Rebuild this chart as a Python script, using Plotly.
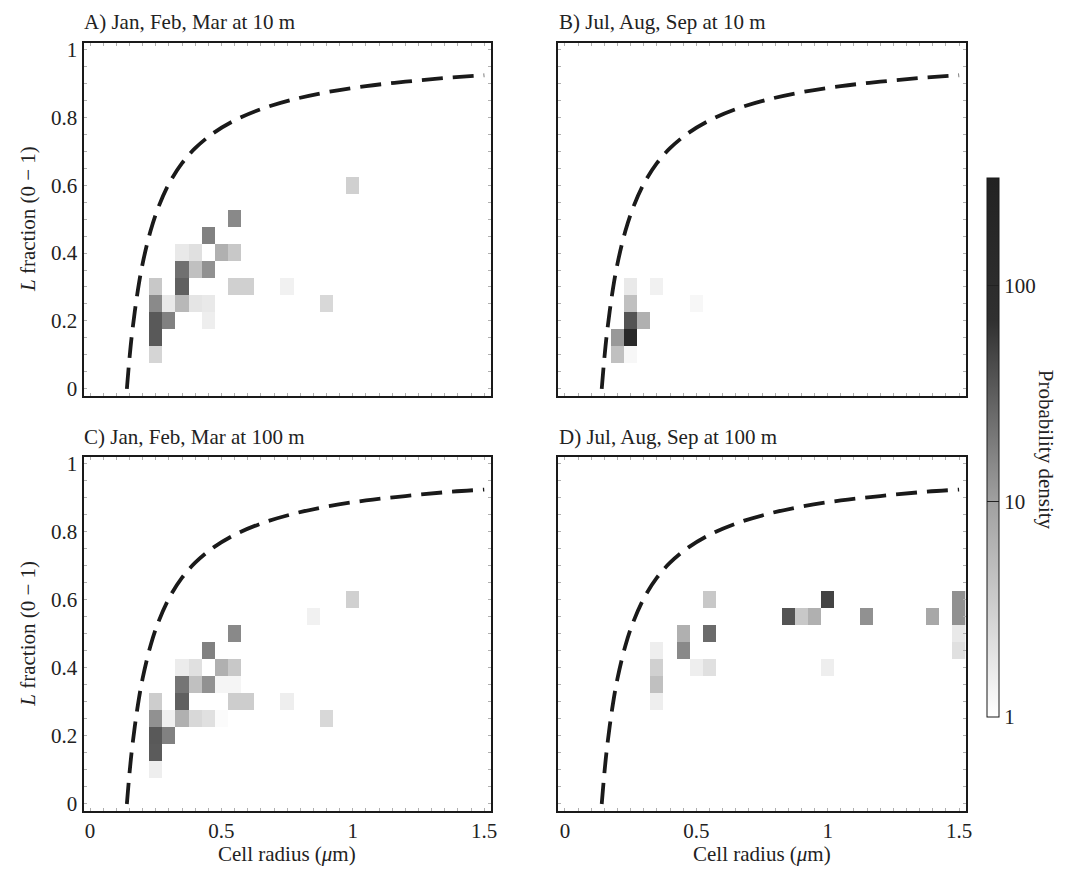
import numpy as np
import plotly.graph_objects as go

# ---------------- data ----------------
# bin centers (cell radius, L fraction) and probability density per panel
a_x = [1.00, 0.55, 0.45, 0.35, 0.40, 0.50, 0.55, 0.35, 0.40, 0.45, 0.25, 0.35, 0.55, 0.60, 0.75,
       0.25, 0.30, 0.35, 0.40, 0.45, 0.90, 0.25, 0.30, 0.45, 0.25, 0.25]
a_y = [0.60, 0.50, 0.45, 0.40, 0.40, 0.40, 0.40, 0.35, 0.35, 0.35, 0.30, 0.30, 0.30, 0.30, 0.30,
       0.25, 0.25, 0.25, 0.25, 0.25, 0.25, 0.20, 0.20, 0.20, 0.15, 0.10]
a_v = [3.1, 15, 17, 1.7, 2.1, 6.8, 3.8, 23, 4.6, 13, 3.8, 30, 3.1, 3.1, 1.4,
       14.6, 1.7, 5.6, 1.9, 1.7, 2.6, 34, 17, 1.5, 34, 2.8]

b_x = [0.25, 0.35, 0.25, 0.50, 0.25, 0.30, 0.20, 0.25, 0.20, 0.25]
b_y = [0.30, 0.30, 0.25, 0.25, 0.20, 0.20, 0.15, 0.15, 0.10, 0.10]
b_v = [1.7, 1.4, 4.6, 1.2, 37, 6.8, 11.3, 150, 4.6, 1.2]

c_x = [1.00, 0.85, 0.55, 0.45, 0.35, 0.40, 0.50, 0.55, 0.35, 0.40, 0.45, 0.50, 0.55,
       0.25, 0.35, 0.55, 0.60, 0.75, 0.25, 0.30, 0.35, 0.40, 0.45, 0.50, 0.90,
       0.25, 0.30, 0.25, 0.25]
c_y = [0.60, 0.55, 0.50, 0.45, 0.40, 0.40, 0.40, 0.40, 0.35, 0.35, 0.35, 0.35, 0.35,
       0.30, 0.30, 0.30, 0.30, 0.30, 0.25, 0.25, 0.25, 0.25, 0.25, 0.25, 0.25,
       0.20, 0.20, 0.15, 0.10]
c_v = [3.1, 1.4, 15, 17, 1.6, 2.1, 6.8, 3.8, 21, 4.6, 13, 1.27, 1.27,
       3.4, 30, 3.4, 3.4, 1.5, 13, 1.45, 6.8, 2.6, 2.1, 1.1, 2.6,
       34, 17, 33, 1.5]

d_x = [0.55, 1.00, 1.50, 0.85, 0.90, 0.95, 1.15, 1.40, 1.50, 0.45, 0.55, 1.50,
       0.35, 0.45, 1.50, 0.35, 0.50, 0.55, 1.00, 0.35, 0.35]
d_y = [0.60, 0.60, 0.60, 0.55, 0.55, 0.55, 0.55, 0.55, 0.55, 0.50, 0.50, 0.50,
       0.45, 0.45, 0.45, 0.40, 0.40, 0.40, 0.40, 0.35, 0.30]
d_v = [3.8, 49, 13, 37, 3.8, 6.8, 13, 8.2, 13, 6.8, 25, 1.7,
       1.5, 15, 2.1, 3.1, 1.5, 2.1, 1.5, 4.6, 1.5]

# dashed limit curve
curve_x = [0.14, 0.15, 0.16, 0.18, 0.20, 0.23, 0.26, 0.30, 0.35, 0.40, 0.47, 0.55,
           0.65, 0.77, 0.90, 1.05, 1.20, 1.35, 1.50]
curve_y = [0.000, 0.090, 0.165, 0.281, 0.369, 0.465, 0.535, 0.604, 0.665, 0.709, 0.754, 0.791,
           0.824, 0.852, 0.874, 0.892, 0.905, 0.916, 0.924]

titles = ["A) Jan, Feb, Mar at 10 m", "B) Jul, Aug, Sep at 10 m",
          "C) Jan, Feb, Mar at 100 m", "D) Jul, Aug, Sep at 100 m"]
cb_tickvals = [1, 10, 100]
cb_ticktext = ["1", "10", "100"]
x_ticks = [0, 0.5, 1, 1.5]
x_ticktext = ["0", "0.5", "1", "1.5"]
y_ticks = [0, 0.2, 0.4, 0.6, 0.8, 1]
y_ticktext = ["0", "0.2", "0.4", "0.6", "0.8", "1"]

# ---------------- build ----------------
BIN = 0.05
xc = np.round(np.arange(0, 1.5 + 1e-9, BIN), 2)
yc = np.round(np.arange(0, 1.0 + 1e-9, BIN), 2)


def grid(xs, ys, vs):
    z = np.full((len(yc), len(xc)), np.nan)
    for x, y, v in zip(xs, ys, vs):
        i = int(round(y / BIN))
        j = int(round(x / BIN))
        z[i, j] = np.log10(v)
    return z


panels = [(a_x, a_y, a_v), (b_x, b_y, b_v), (c_x, c_y, c_v), (d_x, d_y, d_v)]

W, H = 1068, 877
OFF = 8  # page body margin


def PX(px):
    return (px - OFF) / W


def PY(py):
    return 1 - (py - OFF) / H


FONT = "Liberation Serif, Times New Roman, serif"
TXT = "#222222"
FS = 21

# panel boxes in reference pixels: (left, right, top, bottom)
boxes = [(84, 494, 38, 395), (562, 972, 38, 395), (84, 494, 457, 815), (562, 972, 457, 815)]

fig = go.Figure()
layout = dict(width=W, height=H, margin=dict(l=0, r=0, t=0, b=0),
              paper_bgcolor="white", plot_bgcolor="white", showlegend=False,
              font=dict(family=FONT, size=FS, color=TXT))

for k, ((xs, ys, vs), (l, r, t, b)) in enumerate(zip(panels, boxes)):
    n = "" if k == 0 else str(k + 1)
    xa, ya = "x" + n, "y" + n
    fig.add_trace(go.Heatmap(x=xc, y=yc, z=grid(xs, ys, vs), coloraxis="coloraxis",
                             xaxis=xa, yaxis=ya, hoverongaps=False))
    fig.add_trace(go.Scatter(x=curve_x, y=curve_y, mode="lines", xaxis=xa, yaxis=ya,
                             line=dict(color="#1a1a1a", width=3.8, dash="21px,10px",
                                       shape="spline", smoothing=1.0),
                             hoverinfo="skip"))
    common = dict(showline=True, linecolor="#1a1a1a", linewidth=2, mirror="allticks",
                  ticks="inside", ticklen=3, tickcolor="#b0b0b0", tickwidth=1,
                  showgrid=False, zeroline=False,
                  minor=dict(dtick=BIN, ticks="inside", ticklen=3, tickcolor="#b0b0b0", showgrid=False),
                  tickfont=dict(family=FONT, size=FS, color=TXT))
    layout["xaxis" + n] = dict(common, domain=[PX(l), PX(r)], range=[-0.025, 1.525],
                               anchor=ya, tickvals=x_ticks, ticktext=x_ticktext,
                               showticklabels=k >= 2)
    layout["yaxis" + n] = dict(common, domain=[PY(b), PY(t)], range=[-0.02, 1.02],
                               anchor=xa, tickvals=y_ticks, ticktext=y_ticktext,
                               showticklabels=k % 2 == 0)

layout["coloraxis"] = dict(
    cmin=0, cmax=2.5,
    colorscale=[[0.0, "#ffffff"], [0.4, "#a0a0a0"], [0.736, "#303030"], [1.0, "#222222"]],
    colorbar=dict(x=PX(993), xanchor="left", y=PY(447.5), yanchor="middle",
                  len=(720 - 175) / H, lenmode="fraction", thickness=12, ypad=0, xpad=0,
                  outlinecolor="#1a1a1a", outlinewidth=1,
                  tickvals=list(np.log10(cb_tickvals)), ticktext=cb_ticktext,
                  ticks="inside", ticklen=12, tickcolor="#222222",
                  tickfont=dict(family=FONT, size=FS, color=TXT)))

ann = []
title_pos = [(82, 17), (561, 17), (82, 437), (561, 437)]
for txt, (px, py) in zip(titles, title_pos):
    ann.append(dict(text=txt, x=PX(px), y=PY(py), xref="paper", yref="paper",
                    xanchor="left", yanchor="middle", showarrow=False,
                    font=dict(family=FONT, size=FS, color=TXT)))
for cx in [(84 + 494) / 2, (562 + 972) / 2]:
    ann.append(dict(text="Cell radius (<i>μ</i>m)", x=PX(cx), y=PY(859), xref="paper",
                    yref="paper", xanchor="center", yanchor="middle", showarrow=False,
                    font=dict(family=FONT, size=FS, color=TXT)))
for cy in [(38 + 395) / 2, (457 + 815) / 2]:
    ann.append(dict(text="<i>L</i> fraction (0 − 1)", x=PX(28), y=PY(cy), xref="paper",
                    yref="paper", xanchor="center", yanchor="middle", textangle=-90,
                    showarrow=False, font=dict(family=FONT, size=FS, color=TXT)))
ann.append(dict(text="Probability density", x=PX(1053), y=PY(450), xref="paper",
                yref="paper", xanchor="center", yanchor="middle", textangle=90,
                showarrow=False, font=dict(family=FONT, size=FS, color=TXT)))
layout["annotations"] = ann

fig.update_layout(**layout)
fig.write_html("out.html")
